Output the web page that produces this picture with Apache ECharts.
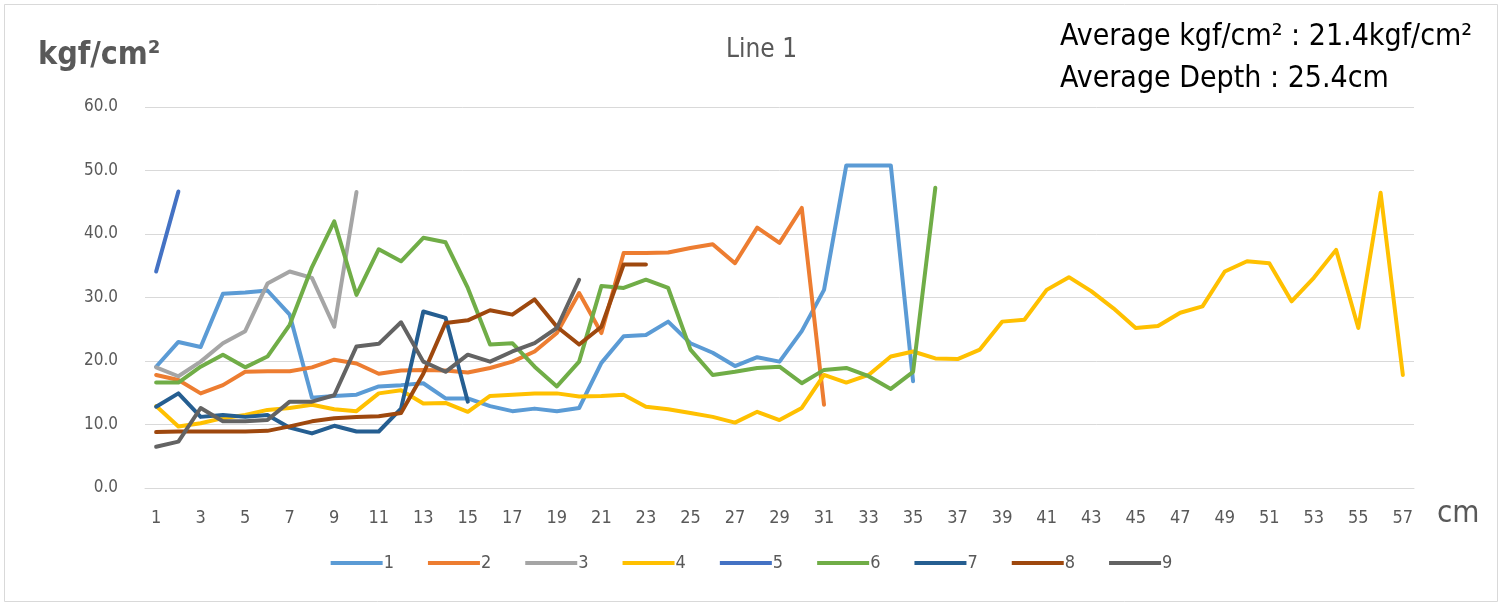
<!DOCTYPE html>
<html>
<head>
<meta charset="utf-8">
<script src="https://cdn.jsdelivr.net/npm/echarts@6/dist/echarts.min.js"></script>
<style>
html,body{margin:0;padding:0;background:#fff;}
#chart{width:1503px;height:607px;}
</style>
</head>
<body>
<div id="chart"></div>
<script>
const categories = Array.from({length: 57}, (_, i) => String(i + 1));
const s1 = [19.1,23.0,22.2,30.6,30.8,31.1,27.3,14.2,14.5,14.7,16.0,16.2,16.5,14.1,14.1,12.9,12.1,12.5,12.1,12.6,19.7,23.9,24.1,26.2,22.8,21.3,19.2,20.6,19.9,24.7,31.2,50.8,50.8,50.8,16.8];
const s2 = [17.8,17.0,14.9,16.2,18.3,18.4,18.4,19.0,20.2,19.6,18.0,18.5,18.6,18.5,18.2,18.9,19.9,21.5,24.4,30.7,24.4,37.0,37.0,37.1,37.8,38.4,35.4,41.0,38.6,44.1,13.1];
const s3 = [19.0,17.6,19.9,22.8,24.7,32.2,34.1,33.1,25.4,46.6];
const s4 = [12.9,9.7,10.2,11.0,11.5,12.3,12.6,13.1,12.4,12.1,14.9,15.4,13.3,13.4,12.0,14.5,14.7,14.9,14.9,14.4,14.5,14.7,12.8,12.4,11.8,11.2,10.3,12.0,10.7,12.6,17.8,16.6,17.8,20.7,21.5,20.4,20.3,21.8,26.2,26.5,31.2,33.2,31.0,28.3,25.2,25.5,27.6,28.6,34.1,35.7,35.4,29.4,33.1,37.5,25.2,46.5,17.8];
const s5 = [34.1,46.7];
const s6 = [16.6,16.6,19.1,21.0,19.0,20.7,25.7,34.8,42.0,30.4,37.6,35.7,39.4,38.7,31.5,22.6,22.8,19.1,16.0,19.9,31.8,31.5,32.8,31.5,21.8,17.8,18.3,18.9,19.1,16.5,18.6,18.9,17.6,15.6,18.3,47.3];
const s7 = [12.8,14.9,11.2,11.5,11.2,11.5,9.5,8.6,9.8,8.9,8.9,12.5,27.8,26.8,13.6];
const s8 = [8.8,8.9,8.9,8.9,8.9,9.0,9.7,10.5,11.0,11.2,11.3,11.8,18.0,26.0,26.4,28.0,27.3,29.7,25.4,22.6,25.4,35.2,35.2];
const s9 = [6.5,7.3,12.6,10.5,10.5,10.7,13.6,13.6,14.6,22.3,22.7,26.1,19.9,18.3,21.0,19.9,21.5,22.8,25.2,32.8];
const seriesNames = ['1','2','3','4','5','6','7','8','9'];
const seriesData = [s1,s2,s3,s4,s5,s6,s7,s8,s9];
const colors = ['#5B9BD5','#ED7D31','#A5A5A5','#FFC000','#4472C4','#70AD47','#255E91','#9E480E','#636363'];
const yTicks = {min: 0, max: 60, interval: 10};
const titleText = 'Line 1';
const yUnit = 'kgf/cm²';
const xUnit = 'cm';
const note1 = 'Average kgf/cm² : 21.4kgf/cm²';
const note2 = 'Average Depth : 25.4cm';

const FONT = "'Liberation Sans Narrow','DejaVu Sans Condensed','Liberation Sans',sans-serif";
const chart = echarts.init(document.getElementById('chart'), null, {renderer: 'canvas'});
chart.setOption({
  animation: false,
  backgroundColor: '#fff',
  color: colors,
  textStyle: {fontFamily: FONT},
  grid: {left: 145, right: 89, top: 107, bottom: 119, containLabel: false},
  legend: {
    bottom: 30, left: 'center',
    itemWidth: 52, itemHeight: 4, itemGap: 34,
    icon: 'rect',
    textStyle: {fontSize: 18, color: '#595959', fontFamily: FONT, padding: [0,0,0,-4]},
    data: seriesNames
  },
  xAxis: {
    type: 'category', data: categories, boundaryGap: true,
    axisLine: {show: true, lineStyle: {color: '#D9D9D9', width: 1}},
    axisTick: {show: false},
    axisLabel: {interval: 1, color: '#595959', fontSize: 18, margin: 21, fontFamily: FONT}
  },
  yAxis: {
    type: 'value', min: yTicks.min, max: yTicks.max, interval: yTicks.interval,
    axisLine: {show: false}, axisTick: {show: false},
    splitLine: {lineStyle: {color: '#D9D9D9', width: 1}},
    axisLabel: {color: '#595959', fontSize: 17, margin: 27, fontFamily: FONT, formatter: v => v.toFixed(1)}
  },
  series: seriesData.map((d, i) => ({
    name: seriesNames[i], type: 'line', data: d,
    symbol: 'none', smooth: false,
    lineStyle: {width: 4, color: colors[i], cap: 'round', join: 'round'},
    itemStyle: {color: colors[i]}
  })),
  graphic: [
    {type: 'rect', shape: {x: 4.5, y: 4.5, width: 1493, height: 597}, style: {fill: 'none', stroke: '#D9D9D9', lineWidth: 1}, silent: true},
    {type: 'text', left: 726, top: 37, style: {text: titleText, font: "26px " + FONT, fill: '#595959'}},
    {type: 'text', left: 38, top: 40, style: {text: yUnit, font: "bold 32px " + FONT, fill: '#595959'}},
    {type: 'text', left: 1437, top: 498, style: {text: xUnit, font: "31px " + FONT, fill: '#595959'}},
    {type: 'text', left: 1060, top: 22, style: {text: note1, font: "30px " + FONT, fill: '#000'}},
    {type: 'text', left: 1060, top: 64, style: {text: note2, font: "30px " + FONT, fill: '#000'}}
  ]
});
</script>
</body>
</html>
